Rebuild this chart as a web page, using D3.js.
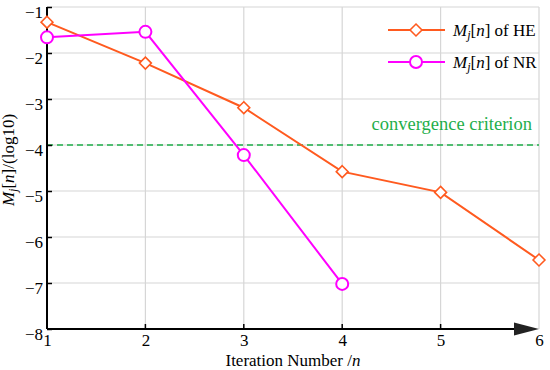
<!DOCTYPE html>
<html>
<head>
<meta charset="utf-8">
<script src="https://cdn.jsdelivr.net/npm/d3@7"></script>
<style>
body { margin: 0; background: #fff; }
</style>
</head>
<body>
<script>
// values
let iterHE = [1, 2, 3, 4, 5, 6];
let valHE = [-1.33, -2.22, -3.19, -4.58, -5.03, -6.5];
let iterNR = [1, 2, 3, 4];
let valNR = [-1.66, -1.54, -4.22, -7.02];
let xTicks = [1, 2, 3, 4, 5, 6];
let yTicks = [-1, -2, -3, -4, -5, -6, -7, -8];
let criterion = -4;

let serif = "'Liberation Serif', 'Times New Roman', serif";
let fs = "17px";

let margin = { top: 7, right: 11, bottom: 41, left: 47 };
let width = 550 - margin.left - margin.right;
let height = 370 - margin.top - margin.bottom;

let svg = d3.select("body").append("svg")
    .attr("width", 550)
    .attr("height", 370)
    .style("font-family", serif)
    .append("g")
    .attr("transform", "translate(" + margin.left + "," + margin.top + ")");

let x = d3.scaleLinear().domain([1, 6]).range([0, width]);
let y = d3.scaleLinear().domain([-8, -1]).range([height, 0]);

// grid
svg.selectAll(".gx").data(xTicks.slice(1)).enter().append("line")
    .attr("x1", d => x(d)).attr("x2", d => x(d))
    .attr("y1", 0).attr("y2", height)
    .attr("stroke", "#d6d6d6").attr("stroke-width", 1.2);
svg.selectAll(".gy").data(yTicks.slice(0, -1)).enter().append("line")
    .attr("x1", 0).attr("x2", width)
    .attr("y1", d => y(d)).attr("y2", d => y(d))
    .attr("stroke", "#d6d6d6").attr("stroke-width", 1.2);

// convergence criterion
svg.append("line")
    .attr("x1", 0).attr("x2", width)
    .attr("y1", y(criterion)).attr("y2", y(criterion))
    .attr("stroke", "#1fae4a").attr("stroke-width", 1.6)
    .attr("stroke-dasharray", "6,4");
svg.append("text")
    .attr("x", width - 7).attr("y", y(criterion) - 15)
    .attr("text-anchor", "end")
    .attr("fill", "#1fae4a")
    .style("font-family", serif)
    .style("font-size", "18.5px")
    .text("convergence criterion");

// axes
let yAxis = d3.axisLeft(y).tickValues(yTicks).tickSize(-5).tickPadding(4)
    .tickFormat(d => "\u2212" + Math.abs(d));
let gy = svg.append("g").call(yAxis);
gy.select(".domain").remove();
gy.selectAll(".tick line").attr("stroke", "#000").attr("stroke-width", 1.5);
gy.selectAll("text").attr("dy", "0.6em").style("font-family", serif).style("font-size", fs);
svg.append("line").attr("x1", 0).attr("x2", 0).attr("y1", 0).attr("y2", height)
    .attr("stroke", "#000").attr("stroke-width", 2);

let xAxis = d3.axisBottom(x).tickValues(xTicks).tickSize(0).tickPadding(5)
    .tickFormat(d3.format("d"));
let gx = svg.append("g").attr("transform", "translate(0," + height + ")").call(xAxis);
gx.select(".domain").remove();
gx.selectAll("text").style("font-family", serif).style("font-size", fs);
svg.selectAll(".xt").data(xTicks.slice(1, -1)).enter().append("line")
    .attr("x1", d => x(d)).attr("x2", d => x(d))
    .attr("y1", height).attr("y2", height - 5)
    .attr("stroke", "#000").attr("stroke-width", 1.5);
svg.append("line").attr("x1", 0).attr("x2", width - 15).attr("y1", height).attr("y2", height)
    .attr("stroke", "#000").attr("stroke-width", 2.2);
svg.append("path")
    .attr("d", "M" + (width - 25) + "," + (height - 6.5) + "L" + width + "," + height + "L" + (width - 25) + "," + (height + 6.5) + "Z")
    .attr("fill", "#222");

// axis titles
svg.append("text")
    .attr("x", width / 2).attr("y", height + 37)
    .attr("text-anchor", "middle")
    .style("font-family", serif)
    .style("font-size", fs)
    .html("Iteration Number /<tspan font-style='italic'>n</tspan>");
svg.append("text")
    .attr("transform", "translate(-33,153) rotate(-90)")
    .attr("text-anchor", "middle")
    .style("font-family", serif)
    .style("font-size", fs)
    .html("<tspan font-style='italic'>M</tspan><tspan font-style='italic' font-size='12px' dy='3'>j</tspan><tspan dy='-3'>[</tspan><tspan font-style='italic'>n</tspan>]/(log10)");

// series
let orange = "#ff5a1f", magenta = "#ff00ff";
let line = d3.line().x(d => x(d[0])).y(d => y(d[1]));
let he = iterHE.map((d, i) => [d, valHE[i]]);
let nr = iterNR.map((d, i) => [d, valNR[i]]);

svg.append("path").datum(he).attr("d", line)
    .attr("fill", "none").attr("stroke", orange).attr("stroke-width", 2);
svg.append("path").datum(nr).attr("d", line)
    .attr("fill", "none").attr("stroke", magenta).attr("stroke-width", 2);

let diamond = d3.symbol().type(d3.symbolDiamond2).size(90);
svg.selectAll(".mhe").data(he).enter().append("path")
    .attr("d", diamond)
    .attr("transform", d => "translate(" + x(d[0]) + "," + y(d[1]) + ")")
    .attr("fill", "#fff").attr("stroke", orange).attr("stroke-width", 1.6);
svg.selectAll(".mnr").data(nr).enter().append("circle")
    .attr("cx", d => x(d[0])).attr("cy", d => y(d[1])).attr("r", 6)
    .attr("fill", "#fff").attr("stroke", magenta).attr("stroke-width", 2);

// legend
let legend = [
    { name: "HE", color: orange, shape: "d" },
    { name: "NR", color: magenta, shape: "c" }
];
let lg = svg.selectAll(".lg").data(legend).enter().append("g")
    .attr("transform", (d, i) => "translate(341," + (23 + i * 32) + ")");
lg.append("line").attr("x1", 0).attr("x2", 57)
    .attr("stroke", d => d.color).attr("stroke-width", 2);
lg.each(function(d) {
    let g = d3.select(this);
    if (d.shape === "d") {
        g.append("path").attr("d", diamond).attr("transform", "translate(28,0)")
            .attr("fill", "#fff").attr("stroke", d.color).attr("stroke-width", 1.6);
    } else {
        g.append("circle").attr("cx", 28).attr("r", 6)
            .attr("fill", "#fff").attr("stroke", d.color).attr("stroke-width", 2);
    }
});
lg.append("text").attr("x", 65).attr("y", 6)
    .style("font-family", serif)
    .style("font-size", fs)
    .html(d => "<tspan font-style='italic'>M</tspan><tspan font-style='italic' font-size='12px' dy='3'>j</tspan><tspan dy='-3'>[</tspan><tspan font-style='italic'>n</tspan>] of " + d.name);
</script>
</body>
</html>
